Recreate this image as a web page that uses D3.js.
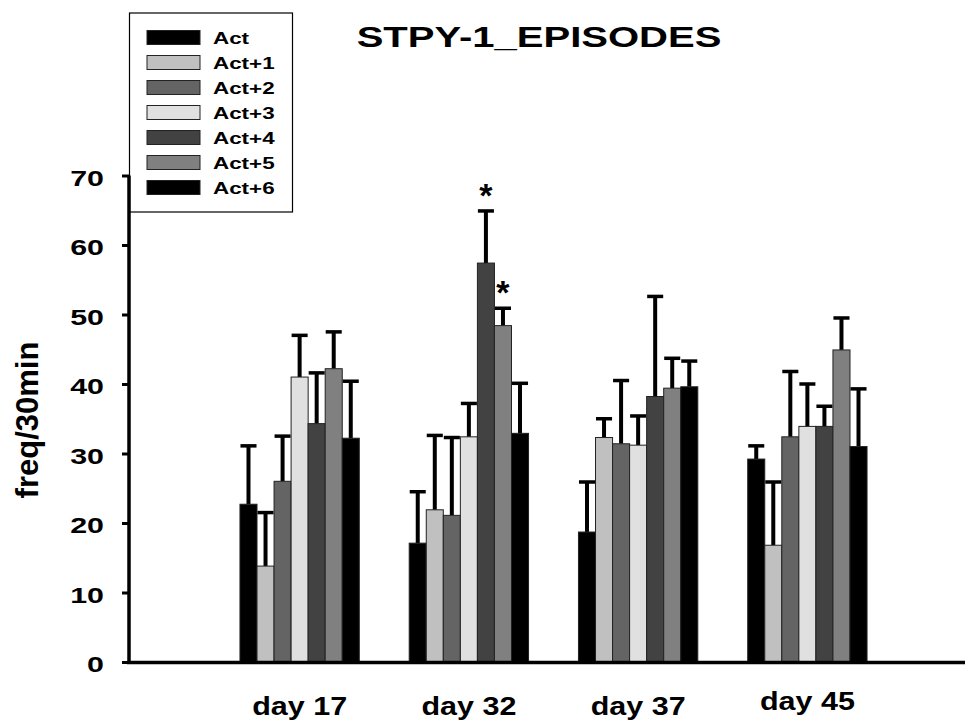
<!DOCTYPE html>
<html>
<head>
<meta charset="utf-8">
<script src="https://cdn.jsdelivr.net/npm/d3@7"></script>
<style>
  html, body { margin: 0; padding: 0; background: #fff; }
  text { font-family: "Liberation Sans", Arial, sans-serif; font-weight: bold; fill: #000; }
</style>
</head>
<body>
<div id="chart"></div>
<script>
const days = ["day 17", "day 32", "day 37", "day 45"];
const series = ["Act", "Act+1", "Act+2", "Act+3", "Act+4", "Act+5", "Act+6"];
const colors = ["#000000", "#c0c0c0", "#646464", "#e0e0e0", "#424242", "#808080", "#000000"];

// mean values, one row per day, one column per series
const means = [
  [22.7, 13.8, 26.0, 41.0, 34.3, 42.2, 32.2],
  [17.1, 21.9, 21.1, 32.4, 57.4, 48.4, 32.9],
  [18.7, 32.3, 31.4, 31.2, 38.2, 39.4, 39.6],
  [29.2, 16.8, 32.4, 33.9, 33.9, 44.9, 31.0]
];
// top of the error bar (mean + error)
const upper = [
  [31.1, 21.5, 32.5, 47.0, 41.6, 47.5, 40.4],
  [24.5, 32.6, 32.3, 37.2, 64.9, 50.9, 40.1],
  [25.9, 35.0, 40.5, 35.4, 52.6, 43.7, 43.3],
  [31.1, 25.9, 41.8, 40.0, 36.8, 49.5, 39.3]
];
// significance marks: [day index, series index]
const stars = [[1, 4], [1, 5]];
const yTicks = [0, 10, 20, 30, 40, 50, 60, 70];

const width = 965, height = 720;

const svg = d3.select("#chart").append("svg")
  .attr("width", width)
  .attr("height", height);

const x0 = d3.scaleBand().domain(days).range([215, 892]).paddingInner(0.295).paddingOuter(0.1475);
const x1 = d3.scaleBand().domain(series).range([0, x0.bandwidth()]);
const y = d3.scaleLinear().domain([0, 70]).range([662, 175.5]);
const color = d3.scaleOrdinal().domain(series).range(colors);

// title
svg.append("text")
  .attr("transform", "translate(539,47) scale(1.38,1)")
  .attr("text-anchor", "middle")
  .style("font-size", "29px")
  .text("STPY-1_EPISODES");

// y label
svg.append("text")
  .attr("transform", "translate(38,420) rotate(-90)")
  .attr("text-anchor", "middle")
  .style("font-size", "31px")
  .text("freq/30min");

// legend box (the axis is drawn over it)
const legend = svg.append("g");
legend.append("rect")
  .attr("x", 129.5).attr("y", 13)
  .attr("width", 163).attr("height", 199)
  .attr("fill", "#fff").attr("stroke", "#000").attr("stroke-width", 1.2);

const rows = legend.selectAll("g.row").data(series).join("g")
  .attr("class", "row")
  .attr("transform", (d, i) => `translate(0,${37.5 + i * 25})`);
rows.append("rect")
  .attr("x", 147).attr("y", -7)
  .attr("width", 53).attr("height", 14)
  .attr("fill", d => color(d))
  .attr("stroke", "#222").attr("stroke-width", 1);
rows.append("text")
  .attr("transform", "translate(213,6) scale(1.4,1)")
  .style("font-size", "16px")
  .text(d => d);

// bars
const groups = svg.append("g").selectAll("g").data(days).join("g")
  .attr("transform", d => `translate(${x0(d)},0)`);

const cells = groups.selectAll("g").data((d, di) => series.map((s, si) => ({
  s, mean: means[di][si], up: upper[di][si]
}))).join("g");

const bw = x1.bandwidth();

// error bars (upper half only)
cells.append("line")
  .attr("x1", d => x1(d.s) + bw / 2).attr("x2", d => x1(d.s) + bw / 2)
  .attr("y1", d => y(d.mean)).attr("y2", d => y(d.up))
  .attr("stroke", "#000").attr("stroke-width", 4);
cells.append("line")
  .attr("x1", d => x1(d.s) + 0.5).attr("x2", d => x1(d.s) + bw - 0.5)
  .attr("y1", d => y(d.up)).attr("y2", d => y(d.up))
  .attr("stroke", "#000").attr("stroke-width", 3.5);

cells.append("rect")
  .attr("x", d => x1(d.s))
  .attr("y", d => y(d.mean))
  .attr("width", bw)
  .attr("height", d => y(0) - y(d.mean))
  .attr("fill", d => color(d.s))
  .attr("stroke", "#222").attr("stroke-width", 1);

// stars
svg.append("g").selectAll("text").data(stars).join("text")
  .attr("x", d => x0(days[d[0]]) + x1(series[d[1]]) + bw / 2)
  .attr("y", d => y(upper[d[0]][d[1]]) - 4)
  .attr("text-anchor", "middle")
  .style("font-size", "34px")
  .text("*");

// x axis line
svg.append("line")
  .attr("x1", 127).attr("x2", width)
  .attr("y1", 662.5).attr("y2", 662.5)
  .attr("stroke", "#000").attr("stroke-width", 3.5);

// x labels
svg.append("g").selectAll("text").data(days).join("text")
  .attr("transform", d => `translate(${x0(d) + x0.bandwidth() / 2},${d === "day 45" ? 710 : 715}) scale(1.22,1)`)
  .attr("text-anchor", "middle")
  .style("font-size", "25px")
  .text(d => d);

// y axis
const yAxis = svg.append("g")
  .attr("transform", "translate(129,0)")
  .call(d3.axisLeft(y).tickValues(yTicks).tickSize(7).tickSizeOuter(0));
yAxis.select(".domain").attr("stroke", "#000").attr("stroke-width", 3.5)
  .attr("d", `M0,${y(70)}V664`);
yAxis.selectAll(".tick line").attr("stroke", "#000").attr("stroke-width", 3);
yAxis.selectAll(".tick text")
  .attr("x", null).attr("dy", null)
  .attr("transform", "translate(-25,9.5) scale(1.38,1)")
  .attr("text-anchor", "end")
  .style("font-size", "22px")
  .attr("fill", "#000");
</script>
</body>
</html>
